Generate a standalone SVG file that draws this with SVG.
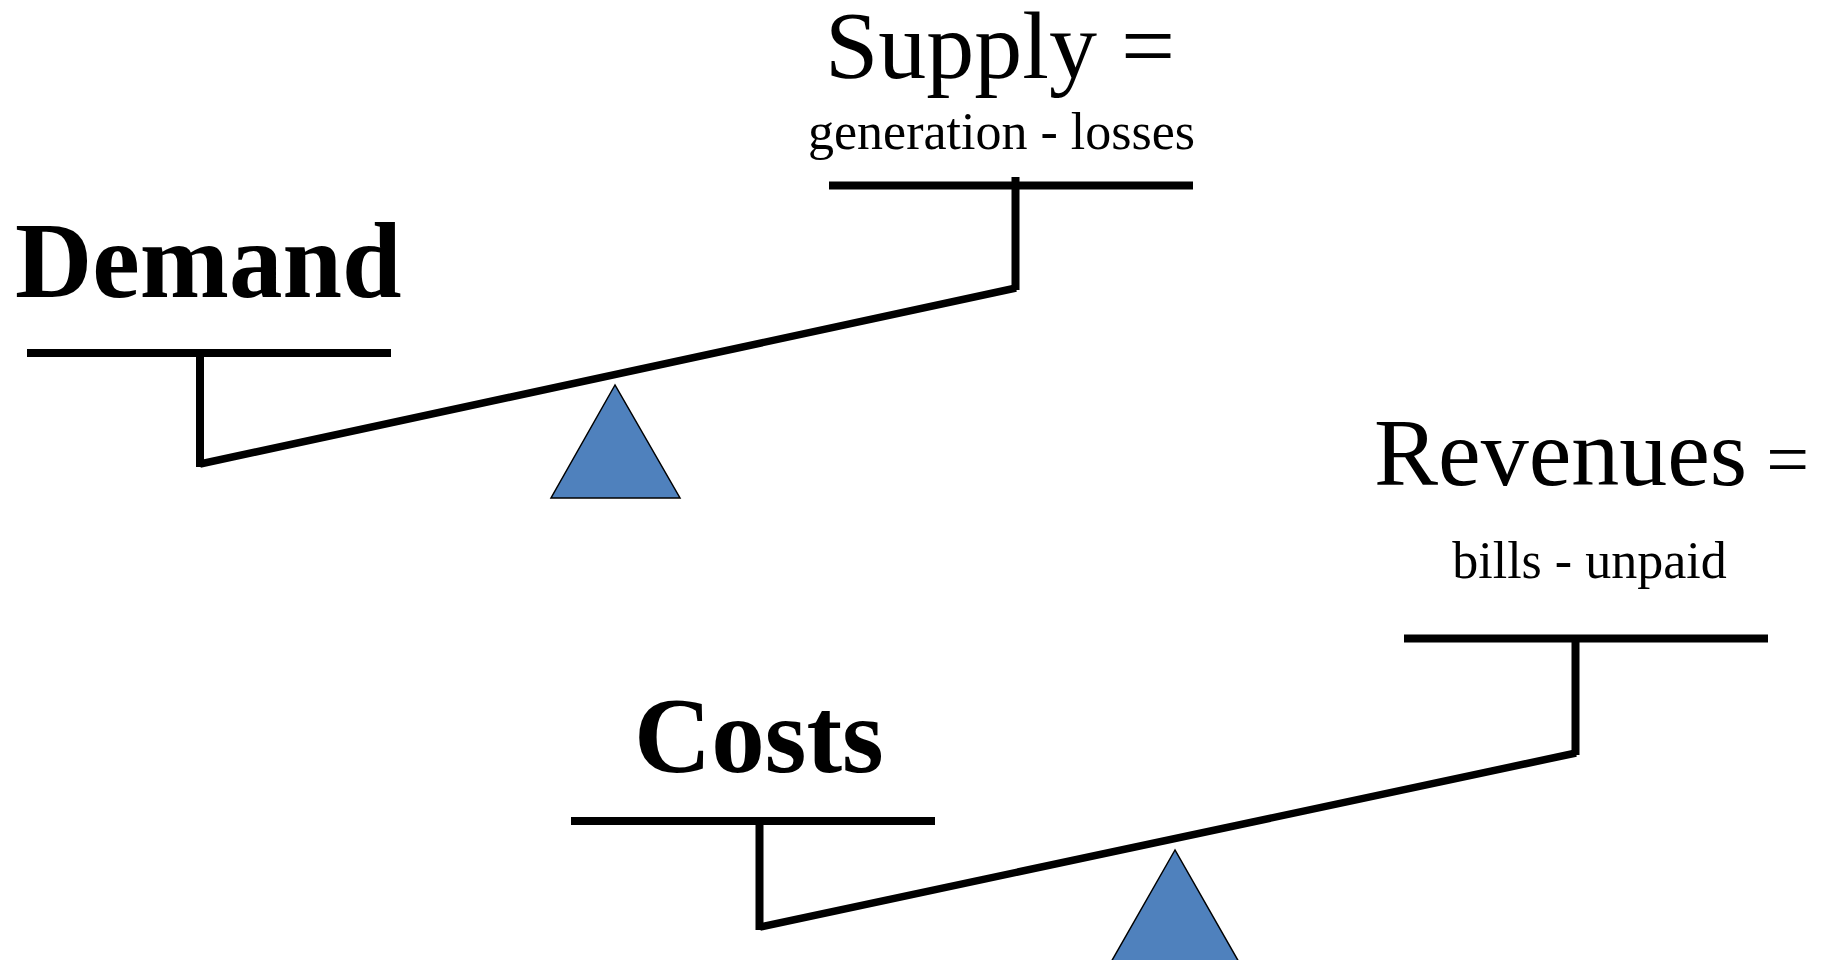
<svg xmlns="http://www.w3.org/2000/svg" width="1822" height="960" viewBox="0 0 1822 960">
  <style>
    .bar { stroke: #000; stroke-width: 8; stroke-linecap: butt; fill: none; }
    .beam { stroke: #000; stroke-width: 7.5; stroke-linecap: butt; fill: none; }
    .pivot { fill: #4F81BD; stroke: #000; stroke-width: 1.5; stroke-linejoin: miter; }
    .title { font-family: "Liberation Serif", "Times New Roman", serif; font-weight: bold; font-size: 107px; fill: #000; }
    .head { font-family: "Liberation Serif", "Times New Roman", serif; font-size: 96px; fill: #000; }
    .sub { font-family: "Liberation Serif", "Times New Roman", serif; font-size: 52px; fill: #000; }
  </style>
  <rect width="1822" height="960" fill="#fff"/>

  <!-- Energy balance scale -->
  <g id="demand">
    <text class="title" x="15" y="297">Demand</text>
    <line class="bar" x1="27" y1="353" x2="391" y2="353"/>
    <line class="bar" x1="200" y1="353" x2="200" y2="467"/>
  </g>
  <g id="supply">
    <text class="head" x="1000" y="78" text-anchor="middle">Supply =</text>
    <text class="sub" x="1001.5" y="149" text-anchor="middle" font-size="53">generation - losses</text>
    <line class="bar" x1="829" y1="185.5" x2="1193" y2="185.5"/>
    <line class="bar" x1="1015.5" y1="177" x2="1015.5" y2="290"/>
  </g>
  <g id="pivot-energy">
    <polygon class="pivot" points="615,385 551,498 680,498"/>
  </g>

  <!-- Financial balance scale -->
  <g id="costs">
    <text class="title" x="634" y="772">Costs</text>
    <line class="bar" x1="571" y1="821" x2="935" y2="821"/>
    <line class="bar" x1="759.5" y1="821" x2="759.5" y2="930"/>
  </g>
  <g id="revenues">
    <text class="head" x="1374" y="485">Revenues<tspan font-size="76"> =</tspan></text>
    <text class="sub" x="1589.5" y="578" text-anchor="middle">bills - unpaid</text>
    <line class="bar" x1="1404" y1="638.5" x2="1768" y2="638.5"/>
    <line class="bar" x1="1575.5" y1="638.5" x2="1575.5" y2="755"/>
  </g>
  <g id="pivot-finance">
    <polygon class="pivot" points="1175,850 1110.5,963 1239.5,963"/>
  </g>

  <!-- Beams linking the pans -->
  <g id="connectors">
    <line class="beam" x1="200" y1="464" x2="1016" y2="288"/>
    <line class="beam" x1="760" y1="927" x2="1576" y2="753"/>
  </g>
</svg>
